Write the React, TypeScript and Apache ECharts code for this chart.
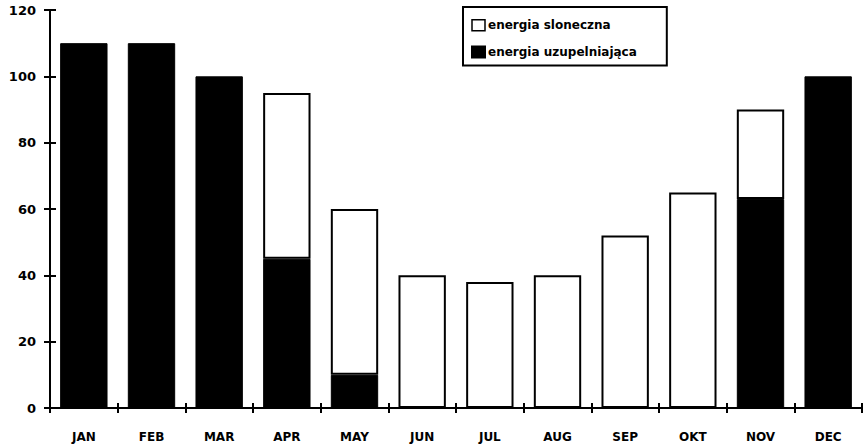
import React, { useEffect, useRef } from "react";
import * as echarts from "echarts";

const months = ["JAN", "FEB", "MAR", "APR", "MAY", "JUN", "JUL", "AUG", "SEP", "OKT", "NOV", "DEC"];
const supplementary = [110, 110, 100, 45, 10, 0, 0, 0, 0, 0, 63, 100];
const solar = [0, 0, 0, 50, 50, 40, 38, 40, 52, 65, 27, 0];
const seriesNames = ["energia sloneczna", "energia uzupelniająca"];

export default function App() {
  const ref = useRef<HTMLDivElement>(null);
  useEffect(() => {
    const chart = echarts.init(ref.current!, null, { renderer: "svg" });
    const font = "DejaVu Sans";
    const nz = (arr: number[]) => arr.map((v) => (v === 0 ? null : v));
    const tickStyle = { color: "#000", width: 2 };
    chart.setOption({
      animation: false,
      backgroundColor: "#ffffff",
      grid: { left: 50, right: 2, top: 10, bottom: 40 },
      legend: {
        orient: "vertical",
        left: 463,
        top: 7,
        padding: [12, 30, 7, 8],
        itemGap: 14,
        itemWidth: 13,
        itemHeight: 11,
        borderColor: "#000",
        borderWidth: 2,
        data: [
          { name: seriesNames[0], icon: "rect", itemStyle: { color: "#fff", borderColor: "#000", borderWidth: 1.5 } },
          { name: seriesNames[1], icon: "rect", itemStyle: { color: "#000" } },
        ],
        textStyle: { fontFamily: font, fontWeight: "bold", fontSize: 12, color: "#000", padding: [0, 0, 0, -2] },
      },
      xAxis: [
        {
          type: "category",
          data: months,
          axisLine: { lineStyle: { color: "#000", width: 2 } },
          axisTick: { show: true, length: 5, lineStyle: tickStyle },
          axisLabel: { fontFamily: font, fontWeight: "bold", fontSize: 12, color: "#000", margin: 23 },
          splitLine: { show: false },
        },
        {
          type: "category",
          data: months,
          position: "bottom",
          axisLine: { show: false },
          axisTick: { show: true, inside: true, length: 5, lineStyle: tickStyle },
          axisLabel: { show: false },
          splitLine: { show: false },
        },
      ],
      yAxis: [
        {
          type: "value",
          min: 0,
          max: 120,
          interval: 20,
          axisLine: { show: true, lineStyle: { color: "#000", width: 2 } },
          axisTick: { show: true, length: 6, lineStyle: tickStyle },
          axisLabel: { fontFamily: font, fontWeight: "bold", fontSize: 13, color: "#000", margin: 14 },
          splitLine: { show: false },
        },
        {
          type: "value",
          min: 0,
          max: 120,
          interval: 20,
          position: "left",
          axisLine: { show: false },
          axisTick: { show: true, inside: true, length: 6, lineStyle: tickStyle },
          axisLabel: { show: false },
          splitLine: { show: false },
        },
      ],
      series: [
        {
          name: seriesNames[1],
          type: "bar",
          stack: "total",
          data: nz(supplementary),
          barCategoryGap: "30%",
          itemStyle: { color: "#000", borderColor: "#000", borderWidth: 1 },
        },
        {
          name: seriesNames[0],
          type: "bar",
          stack: "total",
          data: nz(solar),
          barCategoryGap: "30%",
          itemStyle: { color: "#fff", borderColor: "#000", borderWidth: 2 },
        },
      ],
    });
    return () => chart.dispose();
  }, []);
  return <div ref={ref} style={{ width: 864, height: 448, position: "absolute", left: 0, top: 0 }} />;
}
